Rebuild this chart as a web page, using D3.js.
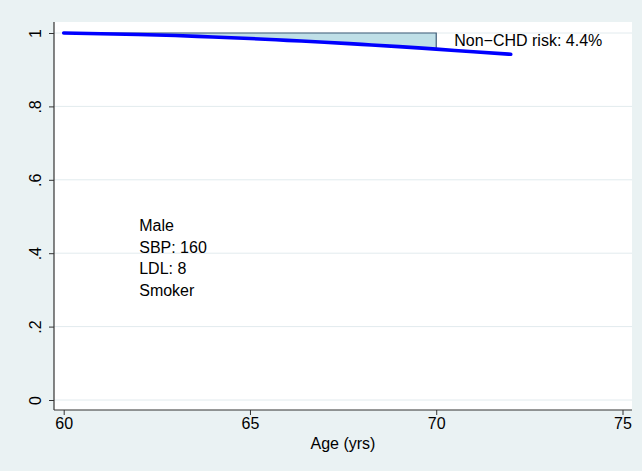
<!DOCTYPE html>
<html>
<head>
<meta charset="utf-8">
<script src="https://cdn.jsdelivr.net/npm/d3@7"></script>
<style>
  html, body { margin: 0; padding: 0; background: #EAF2F3; }
  svg { display: block; font-family: "Liberation Sans", Arial, Helvetica, sans-serif; }
</style>
</head>
<body>
<svg id="chart" width="642" height="471"></svg>
<script>
// Survival (free of non-CHD death) by age
const ages = [60, 61, 62, 63, 64, 65, 66, 67, 68, 69, 70, 71, 72];
const survival = [1.000, 0.998, 0.996, 0.993, 0.989, 0.985, 0.980, 0.975, 0.969, 0.963, 0.956, 0.949, 0.942];
const riskAge = 70;          // horizon for the shaded risk band
const riskLabel = "Non\u2212CHD risk: 4.4%";
const profile = ["Male", "SBP: 160", "LDL: 8", "Smoker"];
const xTicks = [60, 65, 70, 75];
const yTicks = [0, 0.2, 0.4, 0.6, 0.8, 1];
const yTickLabels = ["0", ".2", ".4", ".6", ".8", "1"];

const svg = d3.select("#chart");
const W = 642, H = 471;
const plot = { left: 54, right: 632, top: 22, bottom: 410 };
const fs = 16;

const x = d3.scaleLinear().domain([60, 75]).range([63.7, 622.5]);
const y = d3.scaleLinear().domain([0, 1]).range([400, 33]);

// outer background and plot region
svg.append("rect").attr("width", W).attr("height", H).attr("fill", "#EAF2F3");
svg.append("rect")
  .attr("x", plot.left).attr("y", plot.top)
  .attr("width", plot.right - plot.left).attr("height", plot.bottom - plot.top)
  .attr("fill", "#ffffff");

// horizontal grid
svg.append("g").selectAll("line").data(yTicks).join("line")
  .attr("x1", plot.left).attr("x2", plot.right)
  .attr("y1", d => y(d)).attr("y2", d => y(d))
  .attr("stroke", "#E2EBEE").attr("stroke-width", 1);

// shaded risk band between 1 and the survival curve up to riskAge
const band = ages.map((a, i) => ({ a, s: survival[i] })).filter(d => d.a <= riskAge);
const area = d3.area().x(d => x(d.a)).y0(y(1)).y1(d => y(d.s)).curve(d3.curveMonotoneX);
svg.append("path")
  .datum(band)
  .attr("d", area)
  .attr("fill", "#BFDFE7")
  .attr("stroke", "#3E5C78")
  .attr("stroke-width", 1.2);

// survival curve
const line = d3.line().x((d, i) => x(ages[i])).y(d => y(d)).curve(d3.curveMonotoneX);
svg.append("path")
  .datum(survival)
  .attr("d", line)
  .attr("fill", "none")
  .attr("stroke", "#0000FF")
  .attr("stroke-width", 3.6)
  .attr("stroke-linecap", "round")
  .attr("stroke-linejoin", "round");

// axes
const axisColor = "#333333";
const xAxis = d3.axisBottom(x).tickValues(xTicks).tickSize(5).tickPadding(3).tickFormat(d3.format("d"));
const gx = svg.append("g").attr("transform", `translate(0,${plot.bottom})`).call(xAxis);
gx.select(".domain").remove();
gx.append("line").attr("x1", plot.left).attr("x2", plot.right).attr("y1", 0).attr("y2", 0)
  .attr("stroke", axisColor).attr("stroke-width", 1.2);
gx.selectAll(".tick line").attr("stroke", axisColor);
gx.selectAll(".tick text").attr("fill", "#000").attr("font-size", fs)
  .attr("font-family", "'Liberation Sans', Arial, sans-serif");

const yAxis = d3.axisLeft(y).tickValues(yTicks).tickSize(5).tickFormat((d, i) => yTickLabels[i]);
const gy = svg.append("g").attr("transform", `translate(${plot.left},0)`).call(yAxis);
gy.select(".domain").remove();
gy.append("line").attr("x1", 0).attr("x2", 0).attr("y1", plot.top).attr("y2", plot.bottom)
  .attr("stroke", axisColor).attr("stroke-width", 1.2);
gy.selectAll(".tick line").attr("stroke", axisColor);
gy.selectAll(".tick text")
  .attr("x", null).attr("dy", null)
  .attr("transform", "translate(-19,0) rotate(-90)")
  .attr("text-anchor", "middle")
  .attr("dominant-baseline", "central")
  .attr("fill", "#000").attr("font-size", fs)
  .attr("font-family", "'Liberation Sans', Arial, sans-serif");

// axis title
svg.append("text")
  .attr("x", (plot.left + plot.right) / 2).attr("y", 449)
  .attr("text-anchor", "middle").attr("font-size", fs).attr("fill", "#000")
  .text("Age (yrs)");

// risk label next to the band
svg.append("text")
  .attr("x", x(riskAge) + 18).attr("y", y(1) + 13)
  .attr("font-size", fs).attr("fill", "#000")
  .text(riskLabel);

// risk-factor profile
svg.append("g").selectAll("text").data(profile).join("text")
  .attr("x", x(62) + 1)
  .attr("y", (d, i) => 231 + i * 21.6)
  .attr("font-size", fs).attr("fill", "#000")
  .text(d => d);
</script>
</body>
</html>
